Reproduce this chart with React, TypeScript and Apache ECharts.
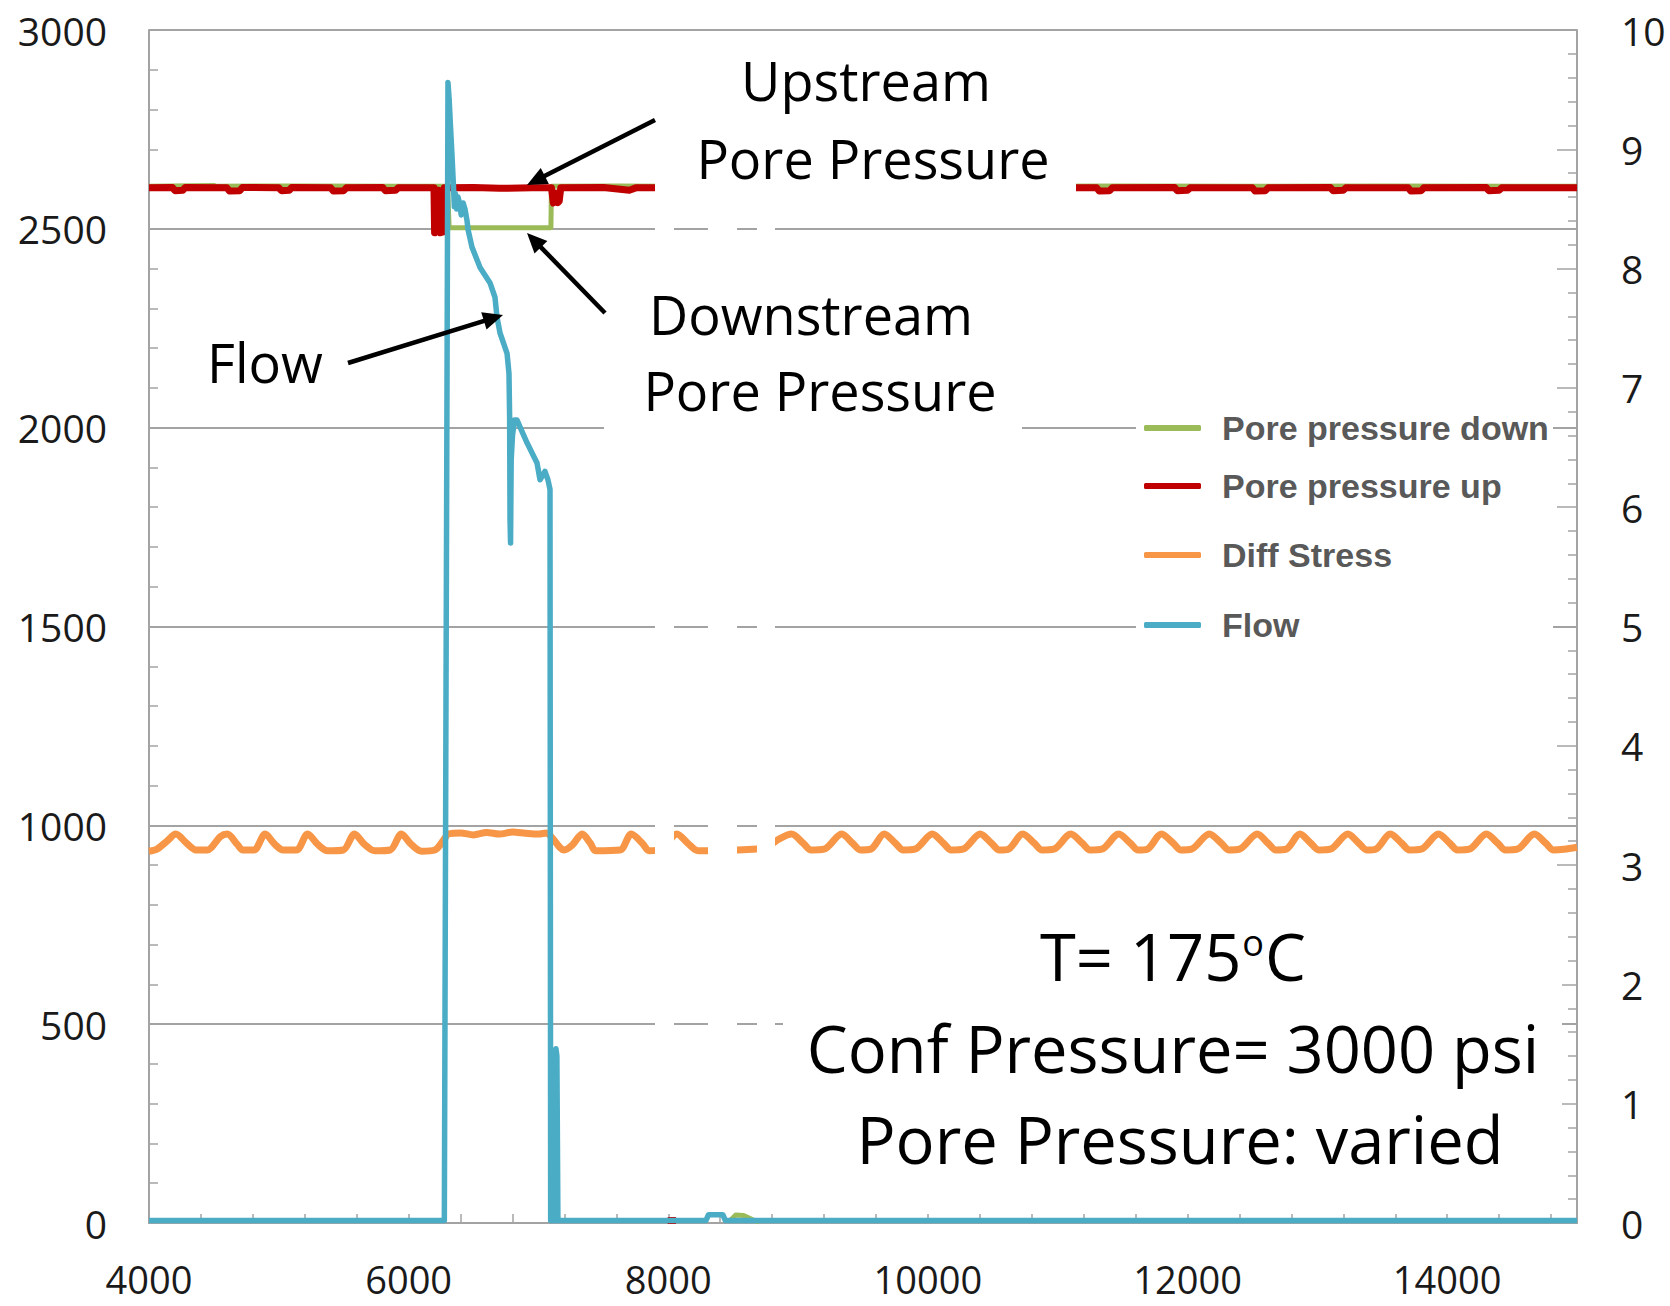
import React, { useEffect, useRef } from "react";
import * as echarts from "echarts";

// ---------- data (time in s; pressures psi on left axis; flow on right axis) ----------
const xTickLabels = [4000, 6000, 8000, 10000, 12000, 14000];
const leftTicks = [0, 500, 1000, 1500, 2000, 2500, 3000];
const rightTicks = [0, 1, 2, 3, 4, 5, 6, 7, 8, 9, 10];

const poreDown: (number | string)[][] = [
  [4000, 2607], [4500, 2609], [4520, 2607], [5200, 2608], [5900, 2607], [6300, 2607],
  [6312, 2503], [6700, 2503], [7096, 2503], [7100, 2607], [7600, 2608], [8000, 2607],
  [8420, 2607], [8421, "-"], [8468, 4], [8490, 10], [8520, 20], [8580, 19], [8650, 8],
  [8700, 3], [8701, "-"], [8735, 2607], [9500, 2608], [10500, 2607], [11500, 2608],
  [12500, 2607], [13500, 2608], [14500, 2607], [15000, 2607],
];

const poreUp: (number | string)[][] = [
  [4000, 2603], [4180, 2604], [4200, 2596], [4260, 2597], [4280, 2604], [4600, 2603],
  [4620, 2595], [4700, 2596], [4720, 2604], [5000, 2603], [5020, 2596], [5080, 2597],
  [5100, 2604], [5400, 2603], [5420, 2595], [5500, 2596], [5520, 2603], [5800, 2604],
  [5820, 2596], [5900, 2597], [5920, 2603], [6195, 2603], [6200, 2490], [6210, 2598],
  [6220, 2494], [6232, 2597], [6244, 2490], [6255, 2596], [6265, 2492], [6275, 2603],
  [6500, 2604], [6700, 2602], [6950, 2603], [7100, 2603], [7115, 2565], [7135, 2590],
  [7150, 2566], [7160, 2570], [7172, 2603], [7500, 2604], [7700, 2597], [7750, 2603],
  [7985, 2603], [7990, "-"], [7995, 6], [8060, 6], [8065, "-"], [8760, 2603], [9500, 2603],
  [10500, 2603], [11300, 2603], [11320, 2595], [11400, 2596], [11420, 2603], [11900, 2604],
  [11920, 2596], [12000, 2597], [12020, 2603], [12500, 2603], [12520, 2595], [12600, 2596],
  [12620, 2603], [13100, 2604], [13120, 2596], [13200, 2597], [13220, 2603], [13700, 2603],
  [13720, 2595], [13800, 2596], [13820, 2603], [14300, 2604], [14320, 2596], [14400, 2597],
  [14420, 2603], [15000, 2603],
];

const diffStress: (number | string)[][] = [
  [4000, 935], [4060, 940], [4138, 960], [4207, 978], [4290, 955], [4362, 938], [4448, 938],
  [4551, 972], [4603, 978], [4680, 952], [4723, 938], [4809, 938], [4895, 978], [4970, 952],
  [5033, 938], [5136, 938], [5222, 978], [5300, 952], [5376, 936], [5497, 938], [5583, 978],
  [5660, 952], [5737, 936], [5858, 938], [5944, 978], [6020, 952], [6099, 935], [6202, 938],
  [6288, 972], [6300, 978], [6400, 981], [6500, 976], [6600, 982], [6700, 978], [6800, 983],
  [6900, 980], [7000, 978], [7061, 981], [7096, 972], [7199, 938], [7260, 950], [7337, 978],
  [7400, 955], [7440, 936], [7629, 938], [7715, 978], [7800, 955], [7852, 936], [7950, 940],
  [8067, 978], [8150, 955], [8230, 936], [8650, 940], [8760, 945], [8850, 965], [8950, 978],
  [9040, 955], [9100, 938], [9200, 940], [9336, 978], [9420, 955], [9480, 938], [9560, 940],
  [9664, 978], [9750, 955], [9810, 938], [9900, 940], [10034, 978], [10120, 955], [10180, 938],
  [10270, 940], [10403, 978], [10490, 955], [10550, 938], [10620, 940], [10731, 978],
  [10820, 955], [10880, 938], [10970, 940], [11101, 978], [11190, 955], [11250, 938],
  [11340, 940], [11470, 978], [11560, 955], [11620, 938], [11690, 940], [11799, 978],
  [11890, 955], [11950, 938], [12030, 940], [12168, 978], [12260, 955], [12320, 938],
  [12400, 940], [12537, 978], [12620, 955], [12680, 938], [12760, 940], [12866, 978],
  [12950, 955], [13010, 938], [13100, 940], [13235, 978], [13320, 955], [13380, 938],
  [13450, 940], [13563, 978], [13650, 955], [13710, 938], [13800, 940], [13933, 978],
  [14020, 955], [14080, 938], [14170, 940], [14302, 978], [14390, 955], [14450, 938],
  [14540, 940], [14672, 978], [14760, 955], [14820, 938], [14900, 940], [15000, 945],
];

const flow: (number | string)[][] = [
  [4000, 0.02], [6275, 0.02], [6303, 9.56], [6312, 9.42], [6322, 9.2], [6334, 8.95],
  [6345, 8.7], [6352, 8.52], [6360, 8.63], [6370, 8.5], [6380, 8.6], [6392, 8.55],
  [6405, 8.45], [6420, 8.55], [6434, 8.5], [6450, 8.4], [6457, 8.33], [6488, 8.18],
  [6550, 8.01], [6627, 7.88], [6665, 7.76], [6681, 7.59], [6704, 7.46], [6758, 7.29],
  [6773, 7.12], [6778, 6.75], [6781, 5.9], [6785, 5.7], [6790, 6.4], [6800, 6.6],
  [6815, 6.73], [6835, 6.73], [6912, 6.54], [6989, 6.37], [7012, 6.23], [7050, 6.3],
  [7073, 6.23], [7089, 6.15], [7094, 0.02], [7128, 0.02], [7135, 1.46], [7142, 1.4],
  [7150, 0.02], [8290, 0.02], [8310, 0.07], [8420, 0.07], [8440, 0.02], [15000, 0.02],
];

const legendNames = ["Pore pressure down", "Pore pressure up", "Diff Stress", "Flow"];
const seriesColors = ["#9bbb59", "#c00000", "#f79646", "#4bacc6"];

// ---------- helpers ----------
const FONT = "'Open Sans', 'Noto Sans', sans-serif";
const AX = "#a3a3a3";

function arrow(tail: number[], head: number[]) {
  const dx = head[0] - tail[0];
  const dy = head[1] - tail[1];
  const len = Math.hypot(dx, dy);
  const ux = dx / len, uy = dy / len;
  const hl = 20, hw = 9;
  const bx = head[0] - ux * hl, by = head[1] - uy * hl;
  return [
    { type: "line", z: 70, shape: { x1: tail[0], y1: tail[1], x2: bx + ux * 2, y2: by + uy * 2 }, style: { stroke: "#000", lineWidth: 4.5 } },
    {
      type: "polygon", z: 70,
      shape: { points: [[head[0], head[1]], [bx - uy * hw, by + ux * hw], [bx + uy * hw, by - ux * hw]] },
      style: { fill: "#000" },
    },
  ];
}

function whiteRect(x1: number, y1: number, x2: number, y2: number) {
  return { type: "rect", z: 50, shape: { x: x1, y: y1, width: x2 - x1, height: y2 - y1 }, style: { fill: "#fff" } };
}

function label(text: string, x: number, y: number, size: number, rich?: any) {
  return {
    type: "text", z: 60, x, y,
    style: { text, fontSize: size, fontFamily: FONT, fill: "#000", align: "center", verticalAlign: "middle", rich },
  };
}

export default function App() {
  const ref = useRef<HTMLDivElement>(null);
  useEffect(() => {
    if (!ref.current) return;
    const chart = echarts.init(ref.current, undefined, { renderer: "svg" });
    const lineSeries = (i: number, data: any, yAxisIndex: number, width: number, smooth = false) => ({
      name: legendNames[i], type: "line", data, yAxisIndex, showSymbol: false, symbol: "none",
      smooth: smooth ? 0.3 : false,
      lineStyle: { width, color: seriesColors[i], join: "round" }, itemStyle: { color: seriesColors[i] },
      emphasis: { disabled: true }, silent: true,
    });
    const legendTops = [408, 466, 535, 605];
    chart.setOption({
      animation: false,
      backgroundColor: "#ffffff",
      grid: { left: 149, right: 93, top: 30, bottom: 83, containLabel: false },
      xAxis: {
        type: "value", min: 4000, max: 15000, interval: 400,
        axisLine: { show: true, lineStyle: { color: AX, width: 2 } },
        axisTick: { show: true, inside: true, length: 9, lineStyle: { color: AX, width: 1.5 } },
        axisLabel: {
          formatter: (v: number) => (xTickLabels.includes(v) ? String(v) : ""),
          fontSize: 38, lineHeight: 40, fontFamily: FONT, color: "#1a1a1a", margin: 36,
        },
        splitLine: { show: false },
      },
      yAxis: [
        {
          type: "value", min: 0, max: 3000, interval: 500, position: "left",
          axisLine: { show: true, lineStyle: { color: AX, width: 2 } },
          axisTick: { show: true, inside: true, length: 9, lineStyle: { color: AX, width: 1.5 } },
          minorTick: { show: true, splitNumber: 5, length: 9, lineStyle: { color: AX, width: 1.5 } },
          splitLine: { show: true, lineStyle: { color: AX, width: 2 } },
          axisLabel: { fontSize: 39, fontFamily: FONT, color: "#1a1a1a", margin: 42,
            formatter: (v: number) => (leftTicks.includes(v) ? String(v) : "") },
        },
        {
          type: "value", min: 0, max: 10, interval: 1, position: "right",
          axisLine: { show: true, lineStyle: { color: AX, width: 2 } },
          axisTick: { show: true, inside: true, length: 20, lineStyle: { color: AX, width: 1.5 } },
          minorTick: { show: true, splitNumber: 5, length: 9, lineStyle: { color: AX, width: 1.5 } },
          splitLine: { show: false },
          axisLabel: { fontSize: 39, fontFamily: FONT, color: "#1a1a1a", margin: 44,
            formatter: (v: number) => (rightTicks.includes(v) ? String(v) : "") },
        },
      ],
      legend: legendNames.map((n, i) => ({
        data: [n], left: 1144, top: legendTops[i], orient: "vertical", padding: 0,
        itemWidth: 57, itemHeight: 6, icon: "roundRect", selectedMode: false, z: 80,
        textStyle: { fontSize: 34, fontWeight: "bold", color: "#595959", fontFamily: "'Liberation Sans', Arial, sans-serif",
          padding: [0, 0, 0, 16], lineHeight: 40 },
      })),
      series: [
        lineSeries(0, poreDown, 0, 5),
        lineSeries(1, poreUp, 0, 7),
        lineSeries(2, diffStress, 0, 7, true),
        lineSeries(3, flow, 1, 5.5),
      ],
      graphic: [
        // erased areas / text backgrounds
        whiteRect(655, 40, 1076, 212),
        whiteRect(604, 270, 1022, 440),
        whiteRect(783, 880, 1562, 1195),
        whiteRect(1136, 395, 1553, 650),
        whiteRect(655, 212, 674, 1200),
        whiteRect(708, 212, 737, 1200),
        whiteRect(757, 212, 775, 1200),
        // annotation texts
        label("Upstream", 866, 80, 54),
        label("Pore Pressure", 873, 158, 54),
        label("Downstream", 811, 314, 54),
        label("Pore Pressure", 820, 390, 54),
        label("Flow", 265, 362, 54),
        label("{a|T= 175}{b|o}{a|C}", 1173, 956, 65, {
          a: { fontSize: 65, fontFamily: FONT, lineHeight: 80 },
          b: { fontSize: 36, fontFamily: FONT, lineHeight: 80, verticalAlign: "top", padding: [8, 1, 0, 1] },
        }),
        label("Conf Pressure= 3000 psi", 1173, 1048, 65),
        label("Pore Pressure: varied", 1180, 1139, 65),
        // arrows
        ...arrow([655, 120], [527, 185]),
        ...arrow([605, 313], [527, 233]),
        ...arrow([348, 363], [503, 315]),
      ],
    });
    return () => chart.dispose();
  }, []);
  return (
    <div
      ref={ref}
      style={{ position: "fixed", left: 0, top: 0, width: 1670, height: 1306, background: "#fff" }}
    />
  );
}
